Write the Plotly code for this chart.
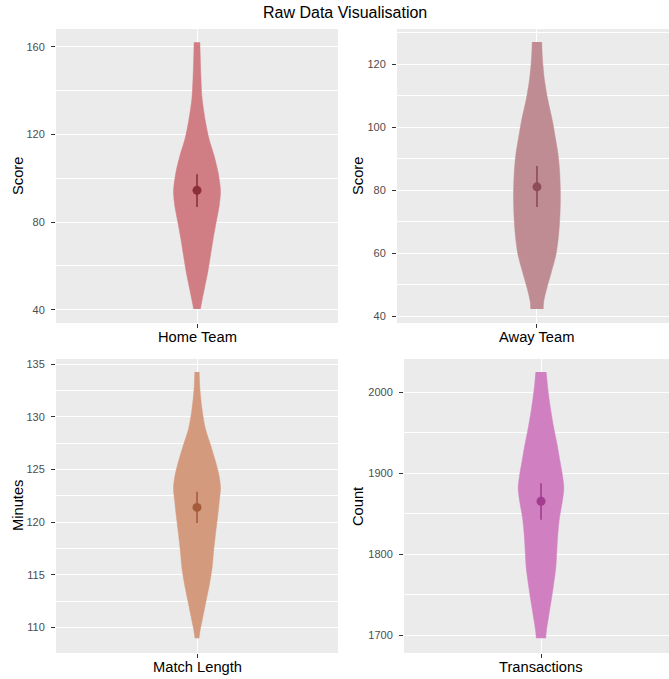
import plotly.graph_objects as go

# ---------------- data ----------------
titles = ["Home Team", "Away Team", "Match Length", "Transactions"]
y_titles = ["Score", "Score", "Minutes", "Count"]

# violin outlines: value levels and relative density
home_y = [40.3, 43.6, 49.7, 57.3, 64.9, 72.6, 80.2, 87.8, 93.9, 96.9, 103.0, 110.6, 118.3, 125.9, 136.6, 148.8, 162.1]
home_d = [10, 14, 22, 32, 40, 48, 57, 66, 69.5, 68, 62, 50, 35, 25, 15, 11, 8.5]

away_y = [42.3, 44.7, 48.9, 54.2, 59.5, 64.8, 70.1, 75.4, 80.7, 86.0, 91.3, 96.6, 101.9, 109.3, 115.6, 122.0, 127.1]
away_d = [18.5, 20, 29, 43, 56, 63, 67, 69, 69, 67, 62.5, 54.5, 46, 31, 21.5, 16, 14]

match_y = [108.96, 109.66, 110.92, 112.5, 114.08, 115.67, 117.25, 118.83, 120.41, 122.0, 123.26, 124.52, 125.79, 127.37, 128.95, 130.85, 132.75, 134.27]
match_d = [6, 9, 17, 27, 37, 45, 49.5, 55, 61, 66.5, 70, 65, 55, 40, 24.5, 14.5, 8.5, 6.5]

trans_y = [1696.3, 1705.4, 1721.6, 1742.0, 1762.8, 1783.4, 1804.0, 1824.5, 1845.1, 1865.6, 1882.0, 1898.4, 1915.0, 1935.4, 1956.0, 1980.6, 2005.3, 2025.0]
trans_d = [14, 16, 22, 30, 37.5, 44, 47, 50, 55, 63.5, 68, 63.5, 56.5, 48, 38, 28, 20, 15.5]

# mean and interval
means = [94.5, 81.1, 121.4, 1865.6]
upper = [101.8, 87.7, 122.88, 1887.8]
lower = [86.9, 74.7, 119.91, 1842.6]

# axis ticks
y_ranges = [[33.9, 168.2], [37.85, 131.25], [107.56, 135.51], [1678.2, 2041.2]]
y_dticks = [40, 20, 5, 100]

# ---------------- styling ----------------
fills = ["#D07D84", "#BF8C93", "#D49A7E", "#D07FC1"]
dots = ["#8B3039", "#8C4C58", "#A55C3C", "#A23D8F"]

W, H = 669, 679
x_domains = [[56 / W, 338 / W], [397 / W, 1.0], [56 / W, 338 / W], [404 / W, 1.0]]
x_ranges = [[0.4, 1.6], [0.4, 1.566], [0.4, 1.6], [0.4, 1.5605]]
y_domains = [[(H - 323) / H, (H - 29) / H], [(H - 323) / H, (H - 29) / H],
             [(H - 653) / H, (H - 359) / H], [(H - 653) / H, (H - 359) / H]]
title_x = [18 / W, 358 / W, 18 / W, 358 / W]
xlabel_y = [(H - 337) / H, (H - 337) / H, (H - 667) / H, (H - 667) / H]

violins = [(home_y, home_d), (away_y, away_d), (match_y, match_d), (trans_y, trans_d)]
HALF = 0.1  # half width of violin in x data units

fig = go.Figure()
layout = dict()
annotations = []
font_family = "Liberation Sans, Arial, sans-serif"

for i in range(4):
    xa = "x" if i == 0 else f"x{i+1}"
    ya = "y" if i == 0 else f"y{i+1}"
    vy, vd = violins[i]
    mx = max(vd)
    xs_r = [1 + HALF * d / mx for d in vd]
    xs_l = [1 - HALF * d / mx for d in vd]
    # right outline
    fig.add_trace(go.Scatter(x=xs_r, y=vy, mode="lines",
                             line=dict(color=fills[i], width=0.5, shape="spline", smoothing=0.8),
                             xaxis=xa, yaxis=ya, hoverinfo="skip", showlegend=False))
    # left outline, filled to the right outline
    fig.add_trace(go.Scatter(x=xs_l, y=vy, mode="lines", fill="tonextx",
                             fillcolor=fills[i],
                             line=dict(color=fills[i], width=0.5, shape="spline", smoothing=0.8),
                             xaxis=xa, yaxis=ya, hoverinfo="skip", showlegend=False))
    fig.add_trace(go.Scatter(x=[1], y=[means[i]], mode="markers",
                             marker=dict(color=dots[i], size=9),
                             error_y=dict(type="data", symmetric=False,
                                          array=[upper[i] - means[i]],
                                          arrayminus=[means[i] - lower[i]],
                                          color=dots[i], thickness=1.6, width=0),
                             xaxis=xa, yaxis=ya, showlegend=False))
    xkey = "xaxis" if i == 0 else f"xaxis{i+1}"
    ykey = "yaxis" if i == 0 else f"yaxis{i+1}"
    layout[xkey] = dict(domain=x_domains[i], range=x_ranges[i], anchor=ya,
                        tickmode="array", tickvals=[1], showticklabels=False,
                        showgrid=True, gridcolor="white", gridwidth=1.1,
                        zeroline=False, ticks="outside", ticklen=4, tickwidth=1,
                        tickcolor="#333333", showline=False, automargin=False,
                        fixedrange=True)
    layout[ykey] = dict(domain=y_domains[i], range=y_ranges[i], anchor=xa,
                        dtick=y_dticks[i], tick0=0, showgrid=True, gridcolor="white",
                        gridwidth=1.1, zeroline=False, ticks="outside", ticklen=4,
                        tickwidth=1, tickcolor="#333333", showline=False, automargin=False,
                        ticklabelstandoff=4,
                        tickfont=dict(family=font_family, size=11, color="#4D4D4D"),
                        minor=dict(dtick=y_dticks[i] / 2, tick0=0, showgrid=True,
                                   gridcolor="white", gridwidth=0.55, ticks=""),
                        fixedrange=True)
    annotations.append(dict(text=y_titles[i], xref="paper", yref="paper",
                            x=title_x[i], y=sum(y_domains[i]) / 2, textangle=-90,
                            showarrow=False, xanchor="center", yanchor="middle",
                            font=dict(family=font_family, size=14.7, color="black")))
    annotations.append(dict(text=titles[i], xref=xa, yref="paper",
                            x=1, y=xlabel_y[i], showarrow=False,
                            xanchor="center", yanchor="middle",
                            font=dict(family=font_family, size=14.7, color="black")))

annotations.append(dict(text="Raw Data Visualisation", xref="paper", yref="paper",
                        x=345 / W, y=(H - 12) / H, showarrow=False,
                        xanchor="center", yanchor="middle",
                        font=dict(family=font_family, size=16, color="black")))

fig.update_layout(width=W, height=H, margin=dict(l=0, r=0, t=0, b=0, autoexpand=False),
                  paper_bgcolor="white", plot_bgcolor="#EBEBEB",
                  showlegend=False, annotations=annotations,
                  font=dict(family=font_family), **layout)

fig.write_html("out.html", config={"displayModeBar": False},
               post_script="document.body.style.margin='0px';")
